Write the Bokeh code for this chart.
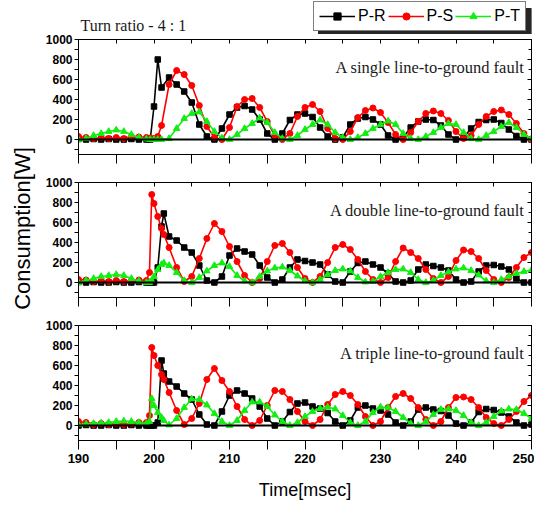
from bokeh.plotting import figure
from bokeh.models import (Span, Label, Legend, LegendItem, LinearAxis, FixedTicker, Range1d,
                          BoxAnnotation, CustomLabelingPolicy)
from bokeh.layouts import column, row
from bokeh.embed import file_html
from bokeh.resources import INLINE

# ---------------- data ----------------
pre = [190, 191, 192, 193, 194, 195, 196, 197, 198, 199]
time_1 = pre + [199.5, 200, 200.5] + list(range(201, 251))
time_23 = pre + [199.4, 199.7, 200, 200.5, 201, 201.3] + list(range(202, 251))

# single line-to-ground fault
pr_single = [5, 0, 5, 0, 5, 0, 0, 5, 0, 0, 0, 330, 800,
             520, 620, 550, 480, 370, 150, 30, 0,
             110, 250, 320, 335, 300, 200, 60, 0,
             60, 195, 250, 260, 225, 120, 30, 0,
             20, 150, 210, 225, 200, 150, 40, 0,
             20, 120, 180, 200, 195, 140, 50, 0,
             20, 110, 175, 195, 200, 165, 100, 35, 0, 0]
ps_single = [30, 20, 10, 20, 10, 20, 10, 30, 25, 20, 15, 10, 30,
             140, 550, 690, 650, 540, 340, 130, 20,
             0, 120, 330, 400, 410, 320, 180, 40,
             0, 60, 230, 320, 350, 280, 110, 10,
             0, 80, 220, 290, 315, 270, 170, 50,
             0, 70, 180, 260, 285, 260, 190, 80,
             10, 40, 150, 230, 280, 295, 250, 160, 60, 0]
pt_single = [0, 10, 40, 60, 80, 95, 80, 50, 20, 5, 0, 0, 0,
             0, 10, 110, 210, 260, 275, 180, 80,
             15, 0, 50, 110, 160, 215, 170, 70,
             10, 0, 40, 100, 150, 195, 150, 70,
             20, 0, 20, 60, 110, 150, 185, 150,
             60, 10, 0, 30, 70, 120, 160, 150,
             70, 10, 0, 40, 80, 130, 170, 120, 50, 10]

# double line-to-ground fault
pr_double = [5, 0, 5, 0, 0, 5, 0, 0, 5, 0, 0, 0, 0, 150, 560, 690,
             460, 420, 350, 300, 170, 20, 0, 60,
             270, 340, 310, 280, 170, 50, 0, 30,
             150, 230, 215, 200, 180, 80, 10, 0,
             110, 195, 210, 180, 150, 90, 10, 0,
             20, 130, 180, 165, 150, 120, 30, 0,
             10, 110, 170, 175, 160, 130, 40, 0, 0]
ps_double = [30, 25, 10, 20, 10, 20, 10, 20, 25, 20, 100, 880, 790, 660, 540, 480,
             350, 150, 10, 60, 240, 440, 590, 510,
             360, 210, 70, 0, 40, 210, 370, 390,
             300, 150, 40, 0, 60, 200, 350, 380,
             330, 230, 110, 30, 0, 50, 210, 345,
             300, 240, 130, 40, 0, 60, 220, 325,
             310, 240, 120, 30, 0, 50, 150, 250, 300]
pt_double = [0, 20, 40, 60, 70, 80, 70, 40, 15, 0, 0, 20, 60, 130, 180, 195,
             170, 100, 20, 0, 50, 115, 170, 195,
             160, 70, 15, 0, 60, 115, 145, 155,
             120, 65, 15, 0, 30, 80, 120, 135,
             115, 50, 5, 10, 60, 100, 130, 135,
             100, 30, 0, 20, 70, 105, 135, 145,
             120, 75, 15, 0, 30, 60, 90, 110, 125]

# triple line-to-ground fault
pr_triple = [0, 5, 0, 0, 5, 0, 0, 5, 0, 0, 0, 0, 0, 30, 650, 520,
             440, 390, 320, 260, 110, 10, 0, 140,
             300, 350, 320, 270, 190, 70, 0, 40,
             135, 220, 230, 190, 170, 125, 40, 0,
             50, 180, 200, 170, 150, 110, 30, 0,
             40, 160, 180, 160, 145, 100, 20, 0,
             30, 135, 165, 155, 130, 90, 30, 0, 10]
ps_triple = [40, 30, 10, 20, 10, 20, 10, 20, 30, 30, 100, 780, 700, 600, 510, 460,
             330, 150, 10, 70, 220, 460, 570, 450,
             340, 190, 60, 0, 50, 200, 350, 340,
             260, 140, 40, 0, 60, 210, 310, 340,
             300, 210, 90, 0, 40, 180, 290, 320,
             270, 180, 60, 0, 40, 180, 280, 285,
             260, 180, 80, 20, 0, 60, 140, 240, 300]
pt_triple = [10, 15, 20, 25, 30, 40, 45, 40, 30, 20, 40, 270, 200, 130, 80, 50,
             5, 70, 180, 265, 260, 205, 120, 40,
             0, 50, 150, 235, 235, 190, 105, 40,
             0, 30, 90, 140, 170, 185, 165, 100,
             30, 0, 40, 130, 185, 180, 140, 80,
             20, 0, 40, 110, 160, 165, 150, 100,
             30, 0, 30, 90, 145, 165, 160, 120, 70]

x_major = [190, 200, 210, 220, 230, 240, 250]
x_minor = [195, 205, 215, 225, 235, 245]
y_major = [0, 200, 400, 600, 800, 1000]
y_minor = [-100, 100, 300, 500, 700, 900]
series_names = ["P-R", "P-S", "P-T"]
notes = ["A single line-to-ground fault", "A double line-to-ground fault", "A triple line-to-ground fault"]

BLACK = "#000000"
RED = "#ff0000"
GREEN = "#11ee11"
SERIF = "Liberation Serif"
SANS = "Liberation Sans"
NO_LABELS = CustomLabelingPolicy(code="return new Set()")
LEFT_FIG_W = 38
COL_W = 534 - LEFT_FIG_W


def hide_labels(ax):
    ax.major_label_text_font_size = "0px"
    ax.major_label_standoff = 0
    ax.major_label_policy = NO_LABELS


def make_panel(height, top, bottom, t, pr, ps, pt, note, last):
    p = figure(width=COL_W, height=height, x_range=Range1d(190, 250), y_range=Range1d(-150, 1000),
               output_backend="svg", toolbar_location=None,
               min_border_left=78 - LEFT_FIG_W, min_border_right=3,
               min_border_top=top, min_border_bottom=bottom)
    p.xgrid.visible = False
    p.ygrid.visible = False
    p.outline_line_color = "black"
    p.outline_line_width = 1

    xa = p.xaxis[0]
    xa.ticker = FixedTicker(ticks=x_major, minor_ticks=x_minor)
    xa.major_tick_out = 9
    xa.major_tick_in = 0
    xa.minor_tick_out = 9
    xa.minor_tick_in = 0
    xa.axis_line_color = "black"
    if last:
        xa.major_label_standoff = 4
        xa.major_label_text_font = SANS
        xa.major_label_text_font_style = "bold"
        xa.major_label_text_font_size = "13px"
        xa.major_label_text_color = "black"
        xa.axis_label = "Time[msec]"
        xa.axis_label_text_font = SANS
        xa.axis_label_text_font_style = "normal"
        xa.axis_label_text_font_size = "18px"
        xa.axis_label_text_color = "black"
        xa.axis_label_standoff = 14
    else:
        hide_labels(xa)

    ya = p.yaxis[0]
    ya.ticker = FixedTicker(ticks=y_major, minor_ticks=y_minor)
    ya.major_tick_out = 4
    ya.major_tick_in = 0
    ya.minor_tick_out = 4
    ya.minor_tick_in = 0
    ya.axis_line_color = "black"
    ya.major_label_standoff = 2
    ya.major_label_text_font = SANS
    ya.major_label_text_font_style = "bold"
    ya.major_label_text_font_size = "12px"
    ya.major_label_text_color = "black"

    ra = LinearAxis(ticker=FixedTicker(ticks=y_major, minor_ticks=y_minor),
                    major_tick_in=4, major_tick_out=0, minor_tick_in=3, minor_tick_out=0,
                    axis_line_color="black")
    hide_labels(ra)
    p.add_layout(ra, "right")
    ta = LinearAxis(ticker=FixedTicker(ticks=x_major, minor_ticks=x_minor),
                    major_tick_in=4, major_tick_out=0, minor_tick_in=4, minor_tick_out=0,
                    axis_line_color="black")
    hide_labels(ta)
    p.add_layout(ta, "above")

    p.add_layout(Span(location=0, dimension="width", line_color="black", line_width=2.2))

    p.line(t, pr, line_color=BLACK, line_width=1.6)
    p.scatter(t, pr, marker="square", size=5.5, fill_color=BLACK, line_color=BLACK)
    p.line(t, ps, line_color=RED, line_width=1.6)
    p.scatter(t, ps, marker="circle", size=6, fill_color=RED, line_color=RED)
    p.line(t, pt, line_color=GREEN, line_width=1.6)
    p.scatter(t, pt, marker="triangle", size=6.5, fill_color=GREEN, line_color=GREEN)

    p.add_layout(Label(x=249.1, y=725, text=note, text_align="right", text_baseline="alphabetic",
                       text_font=SERIF, text_font_size="16.5px", text_color="#1a1a1a"))
    return p


# ---- header: caption + legend (page-pixel coordinates: x 78..531, y measured up from 34) ----
HEAD_H = 34
p0 = figure(width=COL_W, height=HEAD_H, x_range=Range1d(78, 531), y_range=Range1d(0, HEAD_H),
            output_backend="svg", toolbar_location=None, x_axis_type=None, y_axis_type=None,
            min_border_left=78 - LEFT_FIG_W, min_border_right=3, min_border_top=0, min_border_bottom=0)
p0.outline_line_color = None
p0.grid.visible = False
proxies = []
for tt, yy, col, mk, sz in [(time_1, pr_single, BLACK, "square", 6),
                            (time_1, ps_single, RED, "circle", 6.5),
                            (time_1, pt_single, GREEN, "triangle", 7)]:
    a = p0.line(tt, yy, line_color=col, line_width=1.6, visible=False)
    b = p0.scatter(tt, yy, marker=mk, size=sz, fill_color=col, line_color=col, visible=False)
    proxies.append((a, b))
items = [LegendItem(label=n, renderers=[a, b]) for n, (a, b) in zip(series_names, proxies)]
# drop shadow of the legend box
p0.add_layout(BoxAnnotation(left=318, right=531, bottom=0.5, top=HEAD_H - 8, fill_color="#262626",
                            fill_alpha=1.0, line_color="#262626", line_alpha=1.0, level="annotation"))
legend = Legend(items=items, location=(313 - 78, 3), orientation="horizontal", glyph_width=36,
                glyph_height=18, label_standoff=3, spacing=2, padding=5, margin=0,
                label_text_font=SANS, label_text_font_size="16px", label_text_color="black",
                border_line_color="black", border_line_width=1,
                background_fill_color="white", background_fill_alpha=1.0,
                inactive_fill_alpha=0.0, click_policy="none")
p0.add_layout(legend, "center")
p0.add_layout(Label(x=80, y=HEAD_H - 25, text="Turn ratio - 4 : 1", text_align="left",
                    text_baseline="alphabetic", text_font=SERIF, text_font_size="16px",
                    text_color="#1a1a1a"))

p1 = make_panel(134, 5, 14, time_1, pr_single, ps_single, pt_single, notes[0], False)
p2 = make_panel(142, 14, 13, time_23, pr_double, ps_double, pt_double, notes[1], False)
p3 = make_panel(195, 15, 65, time_23, pr_triple, ps_triple, pt_triple, notes[2], True)

# ---- left strip: shared y-axis title ----
TOTAL_H = HEAD_H + 134 + 142 + 195
pl = figure(width=LEFT_FIG_W, height=TOTAL_H, x_range=Range1d(0, LEFT_FIG_W), y_range=Range1d(0, TOTAL_H),
            output_backend="svg", toolbar_location=None, x_axis_type=None, y_axis_type=None,
            min_border_left=0, min_border_right=0, min_border_top=0, min_border_bottom=0)
pl.outline_line_color = None
pl.grid.visible = False
pl.add_layout(Label(x=22, y=TOTAL_H - 228, text="Consumption[W]", angle=90, angle_units="deg",
                    text_align="center", text_baseline="middle", text_font=SANS,
                    text_font_size="22px", text_color="black"))

layout = row(pl, column(p0, p1, p2, p3, spacing=0), spacing=0)
open("out.html", "w").write(file_html(layout, INLINE))
